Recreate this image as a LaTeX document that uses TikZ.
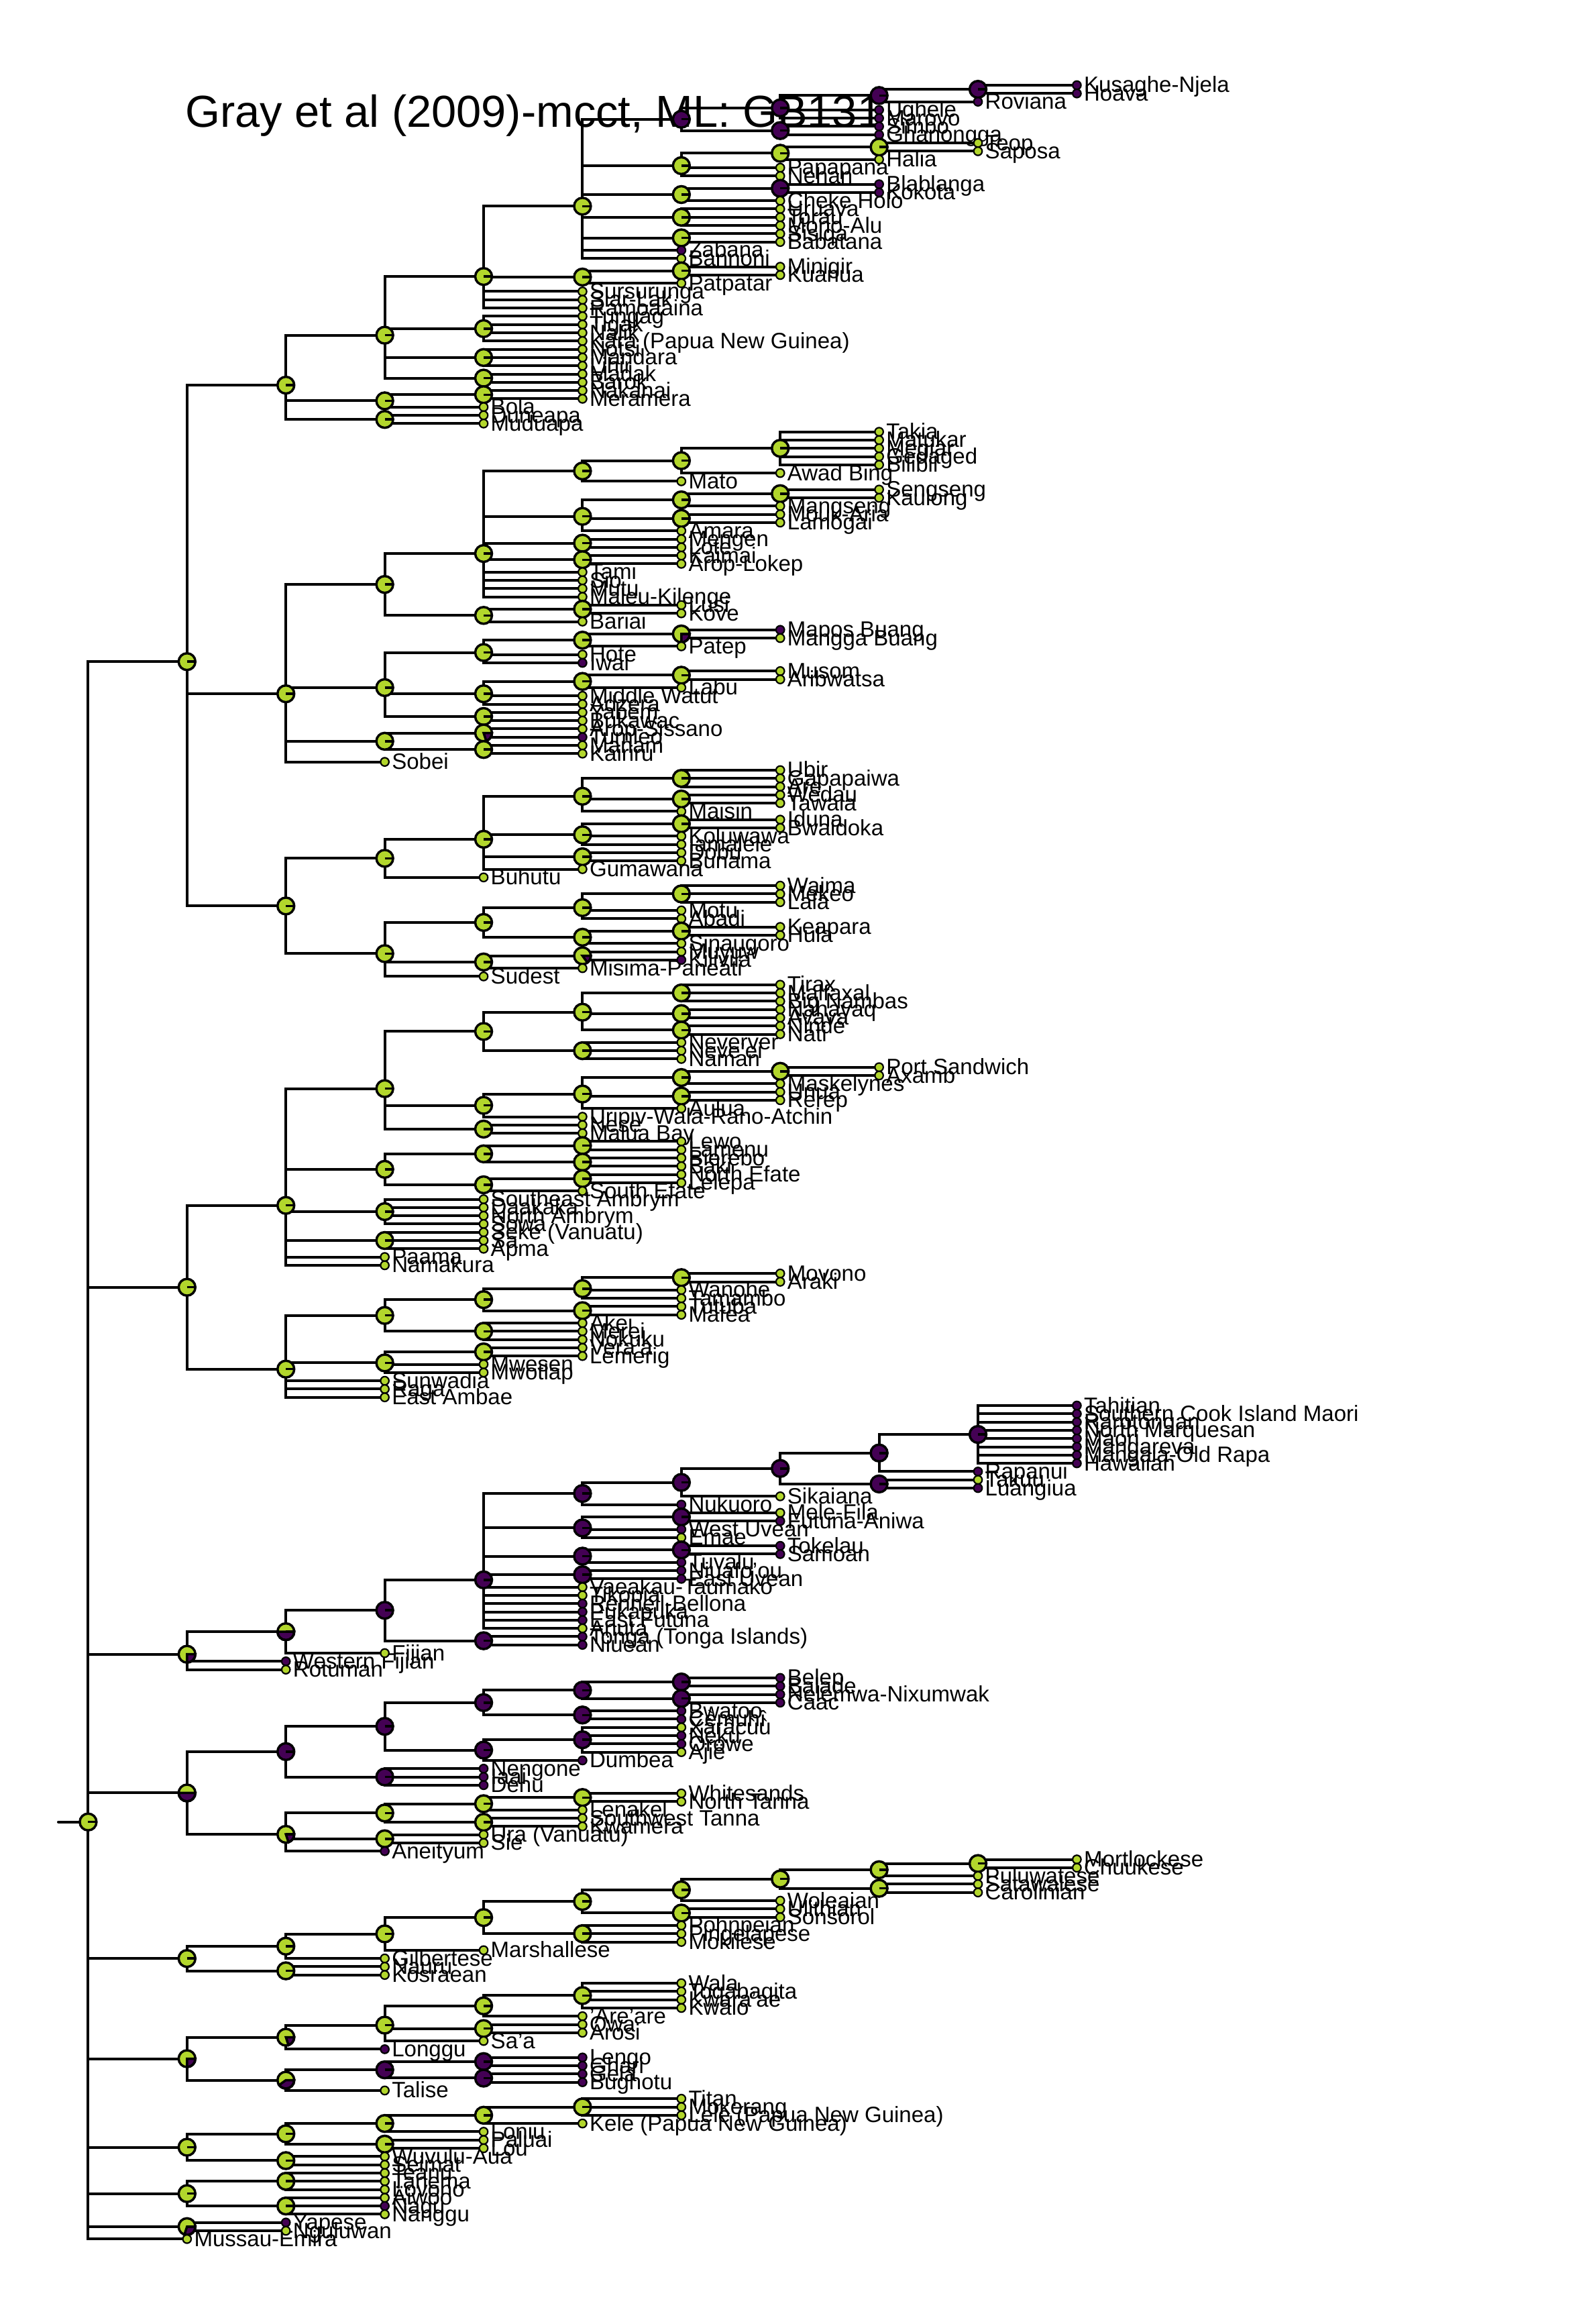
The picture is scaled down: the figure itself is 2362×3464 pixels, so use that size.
\documentclass[tikz,border=0pt]{standalone}
\usepackage{fontspec}
\setmainfont{Liberation Sans}
\definecolor{yel}{HTML}{B2D62C}
\definecolor{pur}{HTML}{440154}
\newcount\tipc \newcount\spt \newcount\dep \newcount\nodec \newcount\kk \newcount\nch
\def\xroot{131.4}\def\xstep{147.4}\def\ytop{127}\def\ystep{12.3}
\def\lablist{}\def\fglist{}
\newcommand\phadd[2]{\xdef#1{\unexpanded\expandafter{#1}\unexpanded\expandafter{#2}}}
\tikzset{
  edge/.style={line width=0.4mm, black, line cap=round},
  lab/.style={anchor=base west, inner sep=0pt, font=\fontsize{9.4pt}{10pt}\selectfont},
  tipdot/.style={circle, draw=black, line width=0.22mm, minimum size=1.25mm, inner sep=0pt},
  pieb/.style={draw=black, line width=0.35mm},
}
\newcommand\ppie[2]{%
  \ifdim #2pt=0pt
    \filldraw[fill=yel,pieb] (#1) circle[radius=1.25mm];
  \else\ifdim #2pt=1pt
    \filldraw[fill=pur,pieb] (#1) circle[radius=1.25mm];
  \else
    \fill[yel] (#1) circle[radius=1.25mm];
    \pgfmathsetmacro\pang{-360*#2}%
    \filldraw[fill=pur,pieb] (#1) -- ++(0:1.25mm) arc[start angle=0,end angle=\pang,radius=1.25mm] -- cycle;
    \draw[pieb] (#1) circle[radius=1.25mm];
  \fi\fi
  \draw[pieb] (#1) -- ++(0:1.25mm);
}
\newcommand\ptip[2]{%
  \global\advance\tipc by 1
  \global\advance\spt by 1
  \pgfmathsetmacro\phx{\xroot+\the\dep*\xstep}%
  \pgfmathsetmacro\phy{\ytop+(\the\tipc-1)*\ystep}%
  \expandafter\xdef\csname Y@t\the\tipc\endcsname{\phy}%
  \expandafter\xdef\csname S@\the\spt\endcsname{t\the\tipc}%
  \coordinate (t\the\tipc) at (\phx,\phy);
  \edef\tmpa{\noexpand\node[lab] (L\the\tipc) at ([shift={(10,11)}]t\the\tipc) {\unexpanded{#1}};}%
  \phadd\lablist\tmpa
  \edef\tmpa{\noexpand\node[tipdot,fill=#2] (d\the\tipc) at (t\the\tipc) {};}%
  \phadd\fglist\tmpa
}
\newcommand\pnode[2]{%
  \begingroup
  \edef\startsp{\the\spt}%
  \global\advance\dep by 1
  #2%
  \global\advance\dep by -1
  \global\advance\nodec by 1
  \edef\me{n\the\nodec}%
  \pgfmathsetmacro\phx{\xroot+\the\dep*\xstep}%
  \def\avg{0}\nch=0 \kk=\startsp\relax
  \loop\ifnum\kk<\spt
    \advance\kk by 1 \advance\nch by 1
    \edef\cn{\csname S@\the\kk\endcsname}%
    \edef\cy{\csname Y@\cn\endcsname}%
    \pgfmathsetmacro\avg{\avg+(\cy-\avg)/\the\nch}%
  \repeat
  \expandafter\xdef\csname Y@\me\endcsname{\avg}%
  \coordinate (\me) at (\phx,\avg);
  \kk=\startsp\relax
  \loop\ifnum\kk<\spt
    \advance\kk by 1
    \edef\cn{\csname S@\the\kk\endcsname}%
    \draw[edge] (\me) |- (\cn);
  \repeat
  \global\spt=\startsp\relax
  \global\advance\spt by 1
  \expandafter\xdef\csname S@\the\spt\endcsname{\me}%
  \edef\tmpa{\noexpand\ppie{\me}{#1}}%
  \phadd\fglist\tmpa
  \endgroup
}
\begin{document}
\begin{tikzpicture}[x=0.1mm,y=-0.1mm]
\path[use as bounding box] (0,0) rectangle (2362,3464);
\node[anchor=base east, inner sep=0pt, font=\fontsize{19pt}{20pt}\selectfont] (title) at (1316,190) {Gray et al (2009)-mcct, ML: GB131};
\pnode{0}{%
 % ---------------- top clade
 \pnode{0}{%
  \pnode{0}{%
   \pnode{0}{%
    \pnode{0}{%
     \pnode{0}{%
      \pnode{1}{%
       \pnode{1}{%
        \pnode{1}{\pnode{1}{\ptip{Kusaghe-Njela}{pur}\ptip{Hoava}{pur}}\ptip{Roviana}{pur}}%
        \ptip{Ughele}{pur}\ptip{Marovo}{pur}}%
       \pnode{1}{\ptip{Simbo}{pur}\ptip{Ghanongga}{pur}}}%
      \pnode{0}{\pnode{0}{\pnode{0}{\ptip{Teop}{yel}\ptip{Saposa}{yel}}\ptip{Halia}{yel}}\ptip{Papapana}{yel}\ptip{Nehan}{yel}}%
      \pnode{0}{\pnode{1}{\ptip{Blablanga}{pur}\ptip{Kokota}{pur}}\ptip{Cheke Holo}{yel}}%
      \pnode{0}{\ptip{Uruava}{yel}\ptip{Torau}{yel}\ptip{Mono-Alu}{yel}}%
      \pnode{0}{\ptip{Sisiqa}{yel}\ptip{Babatana}{yel}}%
      \ptip{Zabana}{pur}\ptip{Bannoni}{yel}}%
     \pnode{0}{\pnode{0}{\ptip{Minigir}{yel}\ptip{Kuanua}{yel}}\ptip{Patpatar}{yel}}%
     \ptip{Sursurunga}{yel}\ptip{Siar-Lak}{yel}\ptip{Ramoaaina}{yel}}%
    \pnode{0}{\ptip{Tungag}{yel}\ptip{Tigak}{yel}\ptip{Nalik}{yel}\ptip{Kara (Papua New Guinea)}{yel}}%
    \pnode{0}{\ptip{Notsi}{yel}\ptip{Mandara}{yel}\ptip{Lihir}{yel}}%
    \pnode{0}{\ptip{Madak}{yel}\ptip{Barok}{yel}}}%
   \pnode{0}{\pnode{0}{\ptip{Nakanai}{yel}\ptip{Meramera}{yel}}\ptip{Bola}{yel}}%
   \pnode{0}{\ptip{Duneapa}{yel}\ptip{Muduapa}{yel}}}%
  \pnode{0}{%
   \pnode{0}{%
    \pnode{0}{%
     \pnode{0}{\pnode{0}{\pnode{0}{\ptip{Takia}{yel}\ptip{Matukar}{yel}\ptip{Megiar}{yel}\ptip{Gedaged}{yel}\ptip{Bilibil}{yel}}\ptip{Awad Bing}{yel}}\ptip{Mato}{yel}}%
     \pnode{0}{\pnode{0}{\pnode{0}{\ptip{Sengseng}{yel}\ptip{Kaulong}{yel}}\ptip{Mangseng}{yel}}\pnode{0}{\ptip{Mouk-Aria}{yel}\ptip{Lamogai}{yel}}\ptip{Amara}{yel}}%
     \pnode{0}{\ptip{Mengen}{yel}\ptip{Lote}{yel}}%
     \pnode{0}{\ptip{Kaimai}{yel}\ptip{Arop-Lokep}{yel}}%
     \ptip{Tami}{yel}\ptip{Sio}{yel}\ptip{Mutu}{yel}\ptip{Maleu-Kilenge}{yel}}%
    \pnode{0}{\pnode{0}{\ptip{Lusi}{yel}\ptip{Kove}{yel}}\ptip{Bariai}{yel}}}%
   \pnode{0}{%
    \pnode{0}{\pnode{0}{\pnode{0.25}{\ptip{Mapos Buang}{pur}\ptip{Mangga Buang}{yel}}\ptip{Patep}{yel}}\ptip{Hote}{yel}\ptip{Iwal}{pur}}%
    \pnode{0}{\pnode{0}{\pnode{0}{\ptip{Musom}{yel}\ptip{Aribwatsa}{yel}}\ptip{Labu}{yel}}\ptip{Middle Watut}{yel}\ptip{Adzera}{yel}}%
    \pnode{0}{\ptip{Yabem}{yel}\ptip{Bukawac}{yel}}}%
   \pnode{0}{\pnode{0.2}{\ptip{Arop-Sissano}{yel}\ptip{Tumleo}{pur}}\pnode{0}{\ptip{Manam}{yel}\ptip{Kairiru}{yel}}}%
   \ptip{Sobei}{yel}}%
  \pnode{0}{%
   \pnode{0}{%
    \pnode{0}{%
     \pnode{0}{\pnode{0}{\ptip{Ubir}{yel}\ptip{Gapapaiwa}{yel}\ptip{Are}{yel}}\pnode{0}{\ptip{Wedau}{yel}\ptip{Tawala}{yel}}\ptip{Maisin}{yel}}%
     \pnode{0}{\pnode{0}{\ptip{Iduna}{yel}\ptip{Bwaidoka}{yel}}\ptip{Koluwawa}{yel}\ptip{Iamalele}{yel}}%
     \pnode{0}{\ptip{Dobu}{yel}\ptip{Bunama}{yel}}%
     \ptip{Gumawana}{yel}}%
    \ptip{Buhutu}{yel}}%
   \pnode{0}{%
    \pnode{0}{%
     \pnode{0}{\pnode{0}{\ptip{Waima}{yel}\ptip{Mekeo}{yel}\ptip{Lala}{yel}}\ptip{Motu}{yel}\ptip{Abadi}{yel}}%
     \pnode{0}{\pnode{0}{\ptip{Keapara}{yel}\ptip{Hula}{yel}}\ptip{Sinaugoro}{yel}}}%
    \pnode{0}{\pnode{0.15}{\ptip{Muyuw}{yel}\ptip{Kilivila}{pur}}\ptip{Misima-Paneati}{yel}}%
    \ptip{Sudest}{yel}}}}%
 % ---------------- Vanuatu
 \pnode{0}{%
  \pnode{0}{%
   \pnode{0}{%
    \pnode{0}{%
     \pnode{0}{\pnode{0}{\ptip{Tirax}{yel}\ptip{Malfaxal}{yel}\ptip{Big Nambas}{yel}}\pnode{0}{\ptip{Nahavaq}{yel}\ptip{Avava}{yel}}\pnode{0}{\ptip{Nindé}{yel}\ptip{Nati}{yel}}}%
     \pnode{0}{\ptip{Neverver}{yel}\ptip{Neve'ei}{yel}\ptip{Naman}{yel}}}%
    \pnode{0}{%
     \pnode{0}{\pnode{0}{\pnode{0}{\ptip{Port Sandwich}{yel}\ptip{Axamb}{yel}}\ptip{Maskelynes}{yel}}\pnode{0}{\ptip{Unua}{yel}\ptip{Rerep}{yel}}\ptip{Aulua}{yel}}%
     \ptip{Uripiv-Wala-Rano-Atchin}{yel}}%
    \pnode{0}{\ptip{Nese}{yel}\ptip{Malua Bay}{yel}}}%
   \pnode{0}{%
    \pnode{0}{\pnode{0}{\ptip{Lewo}{yel}\ptip{Lamenu}{yel}}\pnode{0}{\ptip{Bierebo}{yel}\ptip{Baki}{yel}}}%
    \pnode{0}{\pnode{0}{\ptip{North Efate}{yel}\ptip{Lelepa}{yel}}\ptip{South Efate}{yel}}}%
   \pnode{0}{\ptip{Southeast Ambrym}{yel}\ptip{Daakaka}{yel}\ptip{North Ambrym}{yel}\ptip{Sowa}{yel}}%
   \pnode{0}{\ptip{Seke (Vanuatu)}{yel}\ptip{Sa}{yel}\ptip{Apma}{yel}}%
   \ptip{Paama}{yel}\ptip{Namakura}{yel}}%
  \pnode{0}{%
   \pnode{0}{%
    \pnode{0}{\pnode{0}{\pnode{0}{\ptip{Movono}{yel}\ptip{Araki}{yel}}\ptip{Wanohe}{yel}\ptip{Tamambo}{yel}}\pnode{0}{\ptip{Tutuba}{yel}\ptip{Mafea}{yel}}}%
    \pnode{0}{\ptip{Akei}{yel}\ptip{Merei}{yel}\ptip{Nokuku}{yel}}}%
   \pnode{0}{\pnode{0}{\ptip{Vera'a}{yel}\ptip{Lemerig}{yel}}\ptip{Mwesen}{yel}\ptip{Mwotlap}{yel}}%
   \ptip{Sunwadia}{yel}\ptip{Raga}{yel}\ptip{East Ambae}{yel}}}%
 % ---------------- Fiji - Polynesia
 \pnode{0.25}{%
  \pnode{0.5}{%
   \pnode{1}{%
    \pnode{1}{%
     \pnode{1}{%
      \pnode{1}{%
       \pnode{1}{%
        \pnode{1}{\pnode{1}{\ptip{Tahitian}{pur}\ptip{Southern Cook Island Maori}{pur}\ptip{Rarotongan}{pur}\ptip{North Marquesan}{pur}\ptip{Maori}{pur}\ptip{Mangareva}{pur}\ptip{Mangaia-Old Rapa}{pur}\ptip{Hawaiian}{pur}}\ptip{Rapanui}{pur}}%
        \pnode{1}{\ptip{Takuu}{yel}\ptip{Luangiua}{pur}}}%
       \ptip{Sikaiana}{yel}}%
      \ptip{Nukuoro}{pur}}%
     \pnode{1}{\pnode{1}{\ptip{Mele-Fila}{yel}\ptip{Futuna-Aniwa}{pur}}\ptip{West Uvean}{pur}\ptip{Emae}{yel}}%
     \pnode{1}{\pnode{1}{\ptip{Tokelau}{pur}\ptip{Samoan}{pur}}\ptip{Tuvalu}{pur}}%
     \pnode{1}{\ptip{Niuafo'ou}{pur}\ptip{East Uvean}{pur}}%
     \ptip{Vaeakau-Taumako}{yel}\ptip{Tikopia}{yel}\ptip{Rennell-Bellona}{pur}\ptip{Pukapuka}{pur}\ptip{East Futuna}{pur}\ptip{Anuta}{yel}}%
    \pnode{1}{\ptip{Tonga (Tonga Islands)}{pur}\ptip{Niuean}{pur}}}%
   \ptip{Fijian}{yel}}%
  \ptip{Western Fijian}{pur}\ptip{Rotuman}{yel}}%
 % ---------------- New Caledonia / S Vanuatu
 \pnode{0.5}{%
  \pnode{1}{%
   \pnode{1}{%
    \pnode{1}{\pnode{1}{\pnode{1}{\ptip{Belep}{pur}\ptip{Balade}{pur}}\pnode{1}{\ptip{Nelemwa-Nixumwak}{pur}\ptip{Caac}{pur}}}\pnode{1}{\ptip{Bwatoo}{pur}\ptip{Cèmuhî}{pur}}}%
    \pnode{1}{\pnode{1}{\ptip{Xârâcùù}{yel}\ptip{Neku}{pur}\ptip{Orowe}{pur}\ptip{Ajië}{yel}}\ptip{Dumbea}{pur}}}%
   \pnode{1}{\ptip{Nengone}{pur}\ptip{Iaai}{pur}\ptip{Dehu}{pur}}}%
  \pnode{0.2}{%
   \pnode{0}{\pnode{0}{\pnode{0}{\ptip{Whitesands}{yel}\ptip{North Tanna}{yel}}\ptip{Lenakel}{yel}}\pnode{0}{\ptip{Southwest Tanna}{yel}\ptip{Kwamera}{yel}}}%
   \pnode{0}{\ptip{Ura (Vanuatu)}{yel}\ptip{Sie}{yel}}%
   \ptip{Aneityum}{pur}}}%
 % ---------------- Micronesia
 \pnode{0}{%
  \pnode{0}{%
   \pnode{0}{%
    \pnode{0}{%
     \pnode{0}{%
      \pnode{0}{%
       \pnode{0}{\pnode{0}{\pnode{0}{\ptip{Mortlockese}{yel}\ptip{Chuukese}{yel}}\ptip{Puluwatese}{yel}}\pnode{0}{\ptip{Satawalese}{yel}\ptip{Carolinian}{yel}}}%
       \ptip{Woleaian}{yel}}%
      \pnode{0}{\ptip{Ulithian}{yel}\ptip{Sonsorol}{yel}}}%
     \pnode{0}{\ptip{Pohnpeian}{yel}\ptip{Pingelapese}{yel}\ptip{Mokilese}{yel}}}%
    \ptip{Marshallese}{yel}}%
   \ptip{Gilbertese}{yel}}%
  \pnode{0}{\ptip{Nauru}{yel}\ptip{Kosraean}{yel}}}%
 % ---------------- SE Solomonic
 \pnode{0.25}{%
  \pnode{0.2}{%
   \pnode{0}{%
    \pnode{0}{\pnode{0}{\ptip{Wala}{yel}\ptip{Toqabaqita}{yel}\ptip{Kwara'ae}{yel}\ptip{Kwaio}{yel}}\ptip{'Are'are}{yel}}%
    \pnode{0}{\ptip{Owa}{yel}\ptip{Arosi}{yel}}%
    \ptip{Sa'a}{yel}}%
   \ptip{Longgu}{pur}}%
  \pnode{0.4}{%
   \pnode{1}{\pnode{1}{\ptip{Lengo}{pur}\ptip{Ghari}{pur}}\pnode{1}{\ptip{Gela}{pur}\ptip{Bughotu}{pur}}}%
   \ptip{Talise}{yel}}}%
 % ---------------- Admiralties
 \pnode{0}{%
  \pnode{0}{%
   \pnode{0}{\pnode{0}{\pnode{0}{\ptip{Titan}{yel}\ptip{Mokerang}{yel}\ptip{Lele (Papua New Guinea)}{yel}}\ptip{Kele (Papua New Guinea)}{yel}}\ptip{Loniu}{yel}}%
   \pnode{0}{\ptip{Paluai}{yel}\ptip{Lou}{yel}}}%
  \pnode{0}{\ptip{Wuvulu-Aua}{yel}\ptip{Seimat}{yel}}}%
 % ---------------- Temotu
 \pnode{0}{%
  \pnode{0}{\ptip{Teanu}{yel}\ptip{Tanema}{yel}\ptip{Lovono}{yel}}%
  \pnode{0}{\ptip{Äiwoo}{yel}\ptip{Nagu}{pur}\ptip{Nanggu}{yel}}}%
 \pnode{0.3}{\ptip{Yapese}{pur}\ptip{Nguluwan}{yel}}%
 \ptip{Mussau-Emira}{yel}}%
\edef\rootn{n\the\nodec}%
\edef\rooty{\csname Y@\rootn\endcsname}%
\coordinate (stub) at (87,\rooty);
\draw[edge] (stub) -- (\rootn);
\lablist
\fglist
\end{tikzpicture}
\end{document}
